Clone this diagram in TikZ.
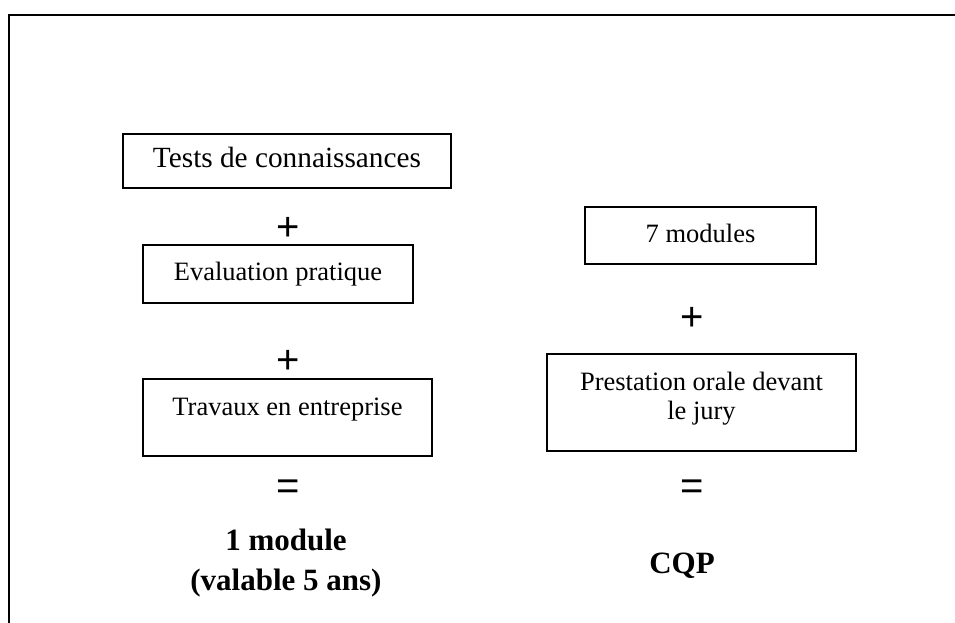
\documentclass[tikz,border=0pt]{standalone}
\usepackage{fontspec}
\setmainfont{Liberation Serif}
\newfontfamily\signfont{Liberation Sans}
\begin{document}
\begin{tikzpicture}[x=1pt,y=-1pt,
  boxnode/.style={draw,line width=1.6pt,inner sep=0pt,anchor=north,font=\fontsize{26.5}{29.5}\selectfont},
  signnode/.style={inner sep=0pt,font=\signfont\fontsize{40}{40}\selectfont},
  resultnode/.style={inner sep=0pt,align=center,font=\bfseries\fontsize{31}{40}\selectfont}]
\useasboundingbox (0,0) rectangle (955,623);
\coordinate (frameTL) at (9,15);
\coordinate (frameTR) at (958,15);
\coordinate (frameBL) at (9,626);
\draw[line width=2pt] (frameBL) -- (frameTL) -- (frameTR);

\node[boxnode, minimum width=328pt, text height=34pt, text depth=20pt,
      font=\fontsize{29.3}{33}\selectfont] (tests) at (287,133) {Tests de connaissances};
\node[boxnode, minimum width=270pt, text height=36pt, text depth=22pt] (eval) at (278,244) {Evaluation pratique};
\node[boxnode, minimum width=289pt, text height=37pt, text depth=40pt] (travaux) at (287.5,378) {Travaux en entreprise};
\node[boxnode, minimum width=231pt, text height=36pt, text depth=21pt] (sept) at (700.5,206) {7 modules};
\node[boxnode, anchor=center, align=center, minimum width=309pt, minimum height=97pt] (prest) at (701.5,402.5)
  {Prestation orale devant\\le jury\rule[-13pt]{0pt}{1pt}};

\node[signnode] (plusA) at (288,229) {+};
\node[signnode] (plusB) at (288,362) {+};
\node[signnode] (plusC) at (692,319) {+};
\node[signnode] (eqA) at (288,490) {=};
\node[signnode] (eqB) at (692,490) {=};

\node[resultnode] (modres) at (286,563) {1 module\\(valable 5 ans)};
\node[resultnode, anchor=base] (cqp) at (682,573) {CQP};
\end{tikzpicture}
\end{document}
